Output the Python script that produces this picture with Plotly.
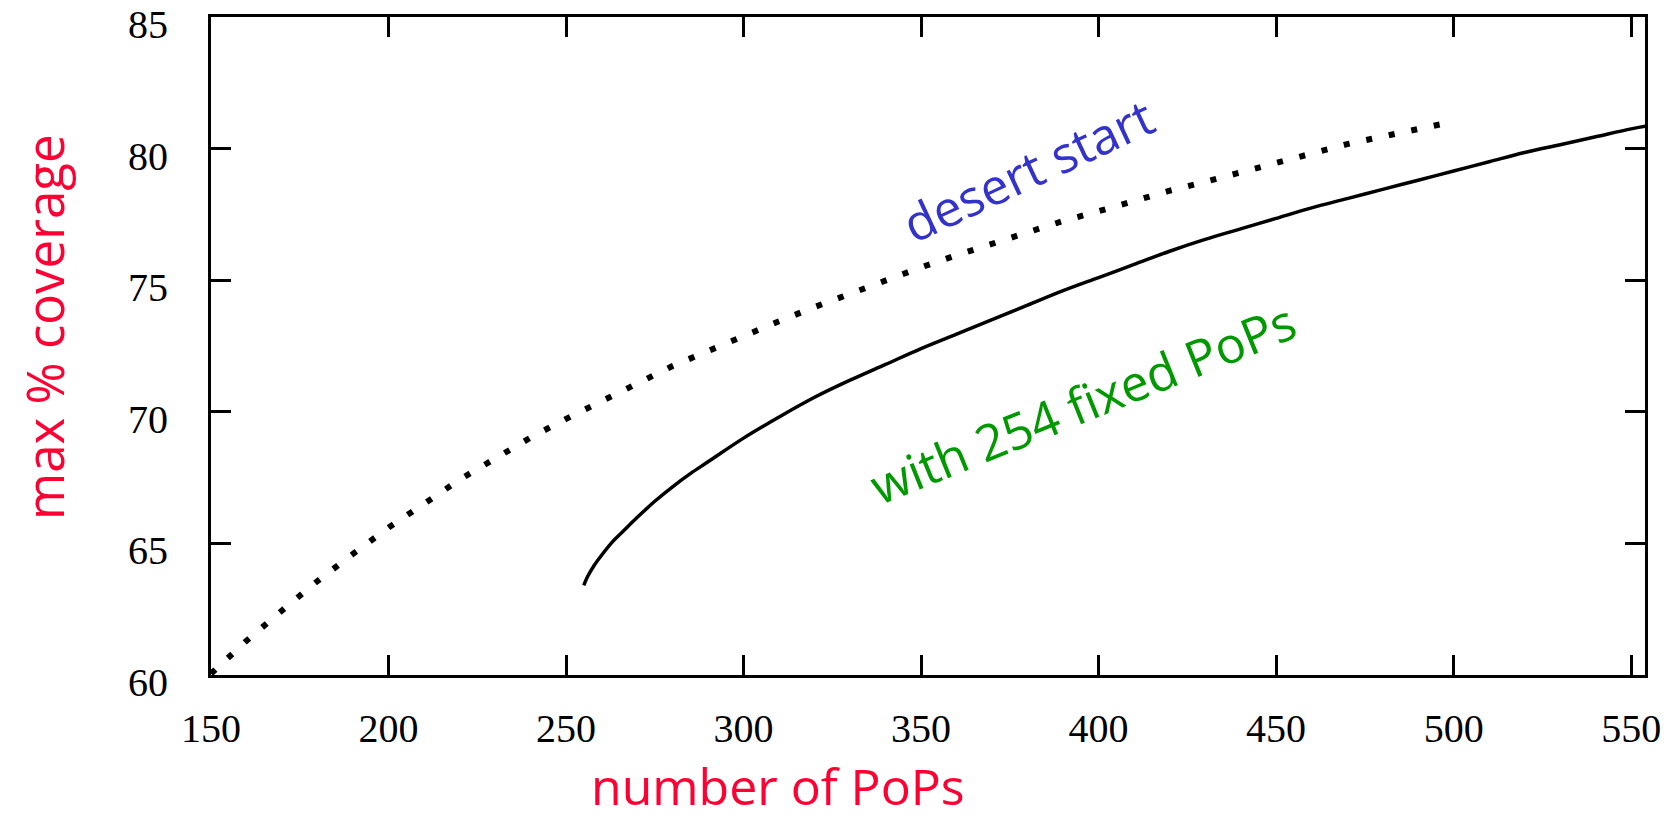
import plotly.graph_objects as go

# "desert start" curve (dotted)
desert_x = [150, 160, 170, 180, 190, 200, 210, 220, 230, 240, 250, 260, 270, 280, 290,
            300, 310, 320, 330, 340, 350, 360, 370, 380, 390, 400, 410, 420, 430, 440,
            450, 460, 470, 480, 490, 500]
desert_y = [60.05, 61.3, 62.45, 63.57, 64.6, 65.6, 66.5, 67.42, 68.22, 69.02, 69.73, 70.42,
            71.06, 71.74, 72.31, 72.9, 73.44, 73.98, 74.5, 75.0, 75.49, 75.95, 76.4, 76.82,
            77.25, 77.62, 78.02, 78.4, 78.74, 79.11, 79.45, 79.8, 80.17, 80.46, 80.76, 81.03]

# "with 254 fixed PoPs" curve (solid)
fixed_x = [255, 256, 258, 260, 263, 266, 270, 275, 280, 285, 290, 300, 310, 320, 330, 340,
           350, 360, 370, 380, 390, 400, 410, 420, 430, 440, 450, 460, 470, 480, 490, 500,
           510, 520, 530, 540, 550, 554]
fixed_y = [63.4, 63.72, 64.18, 64.55, 65.05, 65.45, 65.98, 66.6, 67.15, 67.65, 68.1, 69.0,
           69.8, 70.55, 71.2, 71.8, 72.4, 72.95, 73.5, 74.05, 74.6, 75.1, 75.6, 76.1,
           76.55, 76.95, 77.35, 77.75, 78.1, 78.45, 78.8, 79.15, 79.5, 79.85, 80.15, 80.45,
           80.75, 80.85]

x_ticks = [150, 200, 250, 300, 350, 400, 450, 500, 550]
y_ticks = [60, 65, 70, 75, 80, 85]

TITLE_FONT = "Open Sans"
RED = "#FF0033"

fig = go.Figure()
fig.add_trace(go.Scatter(x=desert_x, y=desert_y, mode="lines",
                         line=dict(color="black", width=6, dash="6px,17px"),
                         showlegend=False, hoverinfo="skip"))
fig.add_trace(go.Scatter(x=fixed_x, y=fixed_y, mode="lines",
                         line=dict(color="black", width=3.5, shape="spline", smoothing=1.0),
                         showlegend=False, hoverinfo="skip"))

axis_common = dict(showgrid=False, zeroline=False, showline=True, linecolor="black",
                   linewidth=3, mirror="allticks", ticks="inside", ticklen=20,
                   tickwidth=3, tickcolor="black", ticklabeloverflow="allow",
                   automargin=False,
                   tickfont=dict(family="Liberation Serif", size=40, color="black"))

fig.update_xaxes(range=[149.999, 553.9], tickvals=x_ticks, ticklabelstandoff=16, **axis_common)
fig.update_yaxes(range=[59.999, 85.001], tickvals=y_ticks, ticklabelstandoff=32,
                 ticklabelshift=7, **axis_common)

fig.add_annotation(text="desert start", x=380, y=79.2, xref="x", yref="y",
                   showarrow=False, textangle=-25,
                   font=dict(family=TITLE_FONT, size=50, color="#3333CC"))
fig.add_annotation(text="with 254 fixed PoPs", x=395.6, y=70.35, xref="x", yref="y",
                   showarrow=False, textangle=-22,
                   font=dict(family=TITLE_FONT, size=50, color="#009900"))
fig.add_annotation(text="max % coverage", x=44, y=327, xref="paper", yref="paper",
                   showarrow=False, textangle=-90,
                   font=dict(family=TITLE_FONT, size=51, color=RED))
fig.add_annotation(text="number of PoPs", x=778, y=786, xref="paper", yref="paper",
                   showarrow=False,
                   font=dict(family=TITLE_FONT, size=50, color=RED))

W, H = 1672, 822
pl, pr, pt, pb = 211, 27, 17, 147
fig.update_layout(width=W, height=H, margin=dict(l=pl, r=pr, t=pt, b=pb, autoexpand=False),
                  paper_bgcolor="white", plot_bgcolor="white")

# convert pixel positions of the axis-title annotations to paper coords
pw, ph = W - pl - pr, H - pt - pb
for ann in fig.layout.annotations:
    if ann.xref == "paper":
        ann.x = (ann.x - pl) / pw
        ann.y = 1 - (ann.y - pt) / ph
        ann.xanchor = "center"
        ann.yanchor = "middle"

fig.write_html("out.html")
